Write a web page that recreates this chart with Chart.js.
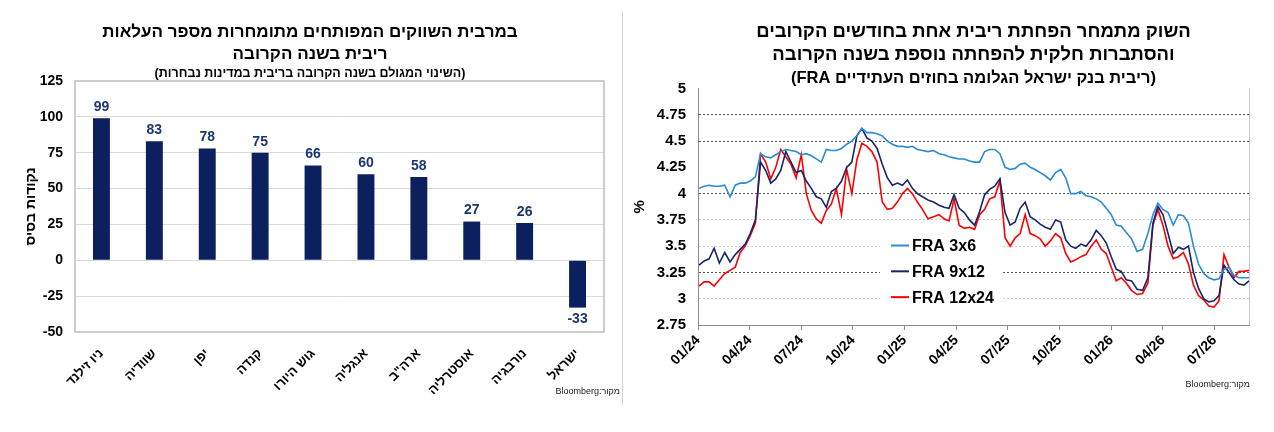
<!DOCTYPE html>
<html lang="he">
<head>
<meta charset="utf-8">
<script src="https://cdn.jsdelivr.net/npm/chart.js@4.4.1/dist/chart.umd.min.js"></script>
<style>
  body { margin: 0; background: #fff; width: 1274px; height: 432px; overflow: hidden; position: relative; font-family: Arial, "Liberation Sans", sans-serif; }
  #left { position: absolute; left: 0; top: 0; }
  #right { position: absolute; left: 630px; top: 0; }
  .sep { position: absolute; left: 622px; top: 12px; width: 1px; height: 393px; background: #d4d4d4; }
  .src { position: absolute; font-size: 9px; color: #222; direction: rtl; }
</style>
</head>
<body>
<canvas id="left" dir="ltr" width="620" height="432"></canvas>
<div class="sep"></div>
<canvas id="right" dir="rtl" width="644" height="432"></canvas>
<div class="src" style="right:654px; top:386px;">מקור:Bloomberg</div>
<div class="src" style="right:24px; top:379px;">מקור:Bloomberg</div>
<script>
// ---- left chart: expected change over the next year (bp)
const countries = ['ניו זילנד', 'שוודיה', 'יפן', 'קנדה', 'גוש היורו', 'אנגליה', 'ארה"ב', 'אוסטרליה', 'נורבגיה', 'ישראל'];
const expectedChange = [99, 83, 78, 75, 66, 60, 58, 27, 26, -33];
const leftTitle = ['במרבית השווקים המפותחים מתומחרות מספר העלאות', 'ריבית בשנה הקרובה'];
const leftSubtitle = '(השינוי המגולם בשנה הקרובה בריבית במדינות נבחרות)';

// ---- right chart: BoI rate implied in FRA contracts
// one reading every 9 days, starting 03/01/2024
const firstDay = [2024, 0, 3];
const stepDays = 9;
const fra3x6 = [4.05, 4.07, 4.08, 4.07, 4.07, 4.08, 3.97, 4.08, 4.1, 4.1, 4.12, 4.16, 4.38, 4.35, 4.34, 4.37, 4.4, 4.42, 4.41, 4.4,
  4.37, 4.38, 4.36, 4.33, 4.3, 4.42, 4.41, 4.41, 4.43, 4.47, 4.5, 4.55, 4.62, 4.58, 4.58, 4.57, 4.55, 4.5, 4.47, 4.45,
  4.45, 4.44, 4.45, 4.42, 4.41, 4.4, 4.41, 4.38, 4.37, 4.35, 4.34, 4.33, 4.33, 4.31, 4.3, 4.3, 4.4, 4.42, 4.42, 4.38,
  4.25, 4.23, 4.24, 4.28, 4.29, 4.25, 4.23, 4.2, 4.17, 4.13, 4.2, 4.23, 4.15, 4.0, 4.0, 4.02, 3.98, 3.97, 3.95, 3.92,
  3.86, 3.8, 3.7, 3.69, 3.63, 3.57, 3.45, 3.47, 3.62, 3.8, 3.91, 3.85, 3.82, 3.7, 3.8, 3.79, 3.72, 3.5, 3.33, 3.24,
  3.2, 3.18, 3.19, 3.28, 3.3, 3.22, 3.2, 3.2, 3.2];
const fra9x12 = [3.32, 3.36, 3.38, 3.48, 3.34, 3.44, 3.35, 3.42, 3.47, 3.52, 3.62, 3.75, 4.3, 4.22, 4.1, 4.14, 4.22, 4.4, 4.3, 4.2,
  4.22, 4.12, 4.05, 3.97, 3.95, 3.87, 4.02, 4.05, 4.12, 4.25, 4.3, 4.55, 4.62, 4.53, 4.5, 4.43, 4.28, 4.15, 4.08, 4.1,
  4.08, 4.13, 4.05, 4.0, 3.97, 3.94, 3.92, 3.89, 3.87, 3.86, 3.99, 3.86, 3.82, 3.75, 3.7, 3.83, 3.99, 4.04, 4.07, 4.14,
  3.82, 3.7, 3.73, 3.86, 3.92, 3.78, 3.75, 3.71, 3.68, 3.66, 3.75, 3.73, 3.56, 3.5, 3.48, 3.52, 3.5, 3.56, 3.65, 3.6,
  3.53, 3.4, 3.28, 3.26, 3.18, 3.17, 3.09, 3.08, 3.2, 3.72, 3.88, 3.8, 3.62, 3.43, 3.49, 3.47, 3.5, 3.25, 3.1, 3.0,
  2.97, 2.98, 3.03, 3.32, 3.25, 3.18, 3.14, 3.13, 3.17];
const fra12x24 = [3.12, 3.16, 3.16, 3.12, 3.18, 3.24, 3.27, 3.3, 3.44, 3.5, 3.6, 3.72, 4.38, 4.3, 4.14, 4.25, 4.42, 4.35, 4.28, 4.15,
  4.37, 4.0, 3.84, 3.76, 3.72, 3.84, 3.9, 4.05, 3.8, 4.23, 4.0, 4.32, 4.48, 4.45, 4.4, 4.3, 3.92, 3.85, 3.86, 3.92,
  4.0, 4.05, 4.0, 3.92, 3.85, 3.76, 3.78, 3.8, 3.76, 3.74, 3.95, 3.7, 3.67, 3.68, 3.66, 3.8, 3.85, 3.95, 3.97, 4.12,
  3.58, 3.5, 3.58, 3.62, 3.8, 3.62, 3.6, 3.57, 3.5, 3.55, 3.62, 3.58, 3.43, 3.35, 3.37, 3.4, 3.42, 3.5, 3.56, 3.47,
  3.43, 3.3, 3.17, 3.2, 3.15, 3.08, 3.04, 3.05, 3.15, 3.7, 3.85, 3.7, 3.5, 3.38, 3.4, 3.44, 3.33, 3.13, 3.03, 2.99,
  2.93, 2.92, 2.98, 3.42, 3.3, 3.2, 3.26, 3.26, 3.27];
const seriesNames = ['FRA 3x6', 'FRA 9x12', 'FRA 12x24'];
const seriesColors = ['#2a8ad4', '#16256a', '#ff0000'];
const rightTitle = ['השוק מתמחר הפחתת ריבית אחת בחודשים הקרובים', 'והסתברות חלקית להפחתה נוספת בשנה הקרובה'];
const rightSubtitle = '(ריבית בנק ישראל הגלומה בחוזים העתידיים FRA)';

const FONT = 'Arial, "Liberation Sans", "DejaVu Sans", sans-serif';

// months since Jan 2024 (fractional) for a date
function monthPos(d) {
  const dim = new Date(d.getFullYear(), d.getMonth() + 1, 0).getDate();
  return (d.getFullYear() - 2024) * 12 + d.getMonth() + (d.getDate() - 1) / dim;
}
function toPoints(values) {
  return values.map((v, i) => ({
    x: monthPos(new Date(firstDay[0], firstDay[1], firstDay[2] + i * stepDays)),
    y: v
  }));
}

const boxFrame = {
  id: 'boxFrame',
  beforeDatasetsDraw(chart) {
    const a = chart.chartArea, ctx = chart.ctx;
    ctx.save();
    ctx.strokeStyle = '#bdbdbd';
    ctx.lineWidth = 1.5;
    ctx.strokeRect(a.left, a.top, a.right - a.left, a.bottom - a.top);
    ctx.restore();
  }
};

const barValues = {
  id: 'barValues',
  afterDatasetsDraw(chart) {
    const ctx = chart.ctx;
    const meta = chart.getDatasetMeta(0);
    ctx.save();
    ctx.font = 'bold 14px ' + FONT;
    ctx.fillStyle = '#1b3672';
    ctx.textAlign = 'center';
    meta.data.forEach((bar, i) => {
      const v = expectedChange[i];
      if (v >= 0) {
        ctx.textBaseline = 'bottom';
        ctx.fillText(v, bar.x, bar.y - 4);
      } else {
        ctx.textBaseline = 'top';
        ctx.fillText(v, bar.x, bar.y + 5);
      }
    });
    ctx.restore();
  }
};

new Chart(document.getElementById('left'), {
  type: 'bar',
  data: {
    labels: countries,
    datasets: [{
      data: expectedChange,
      backgroundColor: '#0c1f5e',
      barPercentage: 0.32,
      categoryPercentage: 1
    }]
  },
  options: {
    responsive: false,
    animation: false,
    layout: { padding: { left: 16, right: 16, top: 0, bottom: 0 } },
    plugins: {
      legend: { display: false },
      tooltip: { enabled: false },
      title: {
        display: true, text: leftTitle, color: '#000',
        font: { family: FONT, size: 17, weight: 'bold', lineHeight: 1.3 },
        padding: { top: 21.5, bottom: 0 }
      },
      subtitle: {
        display: true, text: leftSubtitle, color: '#000',
        font: { family: FONT, size: 12.5, weight: 'bold', lineHeight: 1.2 },
        padding: { top: 0, bottom: 0.3 }
      }
    },
    scales: {
      x: {
        grid: { display: false },
        border: { display: false },
        ticks: {
          color: '#000', minRotation: 45, maxRotation: 45, padding: 6,
          font: { family: FONT, size: 13, weight: 'bold' }
        },
        afterFit(s) { s.height = 100; }
      },
      y: {
        min: -50, max: 125,
        ticks: { stepSize: 25, color: '#000', padding: 12, font: { family: FONT, size: 14, weight: 'bold' } },
        grid: {
          drawTicks: false,
          color: c => (c.tick && (c.tick.value === 125 || c.tick.value === -50)) ? 'rgba(0,0,0,0)' : '#dcdcdc'
        },
        border: { display: false },
        title: {
          display: true, text: 'נקודות בסיס', color: '#000',
          font: { family: FONT, size: 14, weight: 'bold' },
          padding: { top: 7, bottom: 0 }
        },
        afterFit(s) { s.width = 59; }
      }
    }
  },
  plugins: [boxFrame, barValues]
});

// ---- right chart
function quarterLabel(m) {
  const mm = (m % 12) + 1;
  const yy = 24 + Math.floor(m / 12);
  return (mm < 10 ? '0' : '') + mm + '/' + yy;
}

const darkLines = [4.75, 4.5, 4, 3.25];
const lightLines = [3.75, 3.5, 3];

const rightEdge = {
  id: 'rightEdge',
  beforeDatasetsDraw(chart) {
    const a = chart.chartArea, ctx = chart.ctx;
    ctx.save();
    ctx.strokeStyle = '#c8c8c8';
    ctx.lineWidth = 1;
    ctx.beginPath();
    ctx.moveTo(a.right + 0.5, a.top);
    ctx.lineTo(a.right + 0.5, a.bottom);
    ctx.stroke();
    ctx.restore();
  }
};

const fraLegend = {
  id: 'fraLegend',
  afterDatasetsDraw(chart) {
    const a = chart.chartArea, ctx = chart.ctx;
    const bx = a.left + 182, by = a.top + 146;
    ctx.save();
    ctx.direction = 'ltr';
    ctx.fillStyle = '#fff';
    ctx.fillRect(bx, by, 121, 72);
    ctx.font = 'bold 16px ' + FONT;
    ctx.textBaseline = 'middle';
    ctx.textAlign = 'left';
    chart.data.datasets.forEach((ds, i) => {
      const y = by + 11 + i * 25.8;
      ctx.strokeStyle = ds.borderColor;
      ctx.lineWidth = 2;
      ctx.beginPath();
      ctx.moveTo(bx + 11, y);
      ctx.lineTo(bx + 29, y);
      ctx.stroke();
      ctx.fillStyle = '#000';
      ctx.fillText(ds.label, bx + 32, y + 1);
    });
    ctx.restore();
  }
};

const series = [fra3x6, fra9x12, fra12x24];

new Chart(document.getElementById('right'), {
  type: 'line',
  data: {
    datasets: series.map((vals, i) => ({
      label: seriesNames[i],
      data: toPoints(vals),
      borderColor: seriesColors[i],
      borderWidth: 1.6,
      pointRadius: 0,
      fill: false,
      tension: 0
    }))
  },
  options: {
    responsive: false,
    animation: false,
    layout: { padding: { left: 0, right: 25, top: 0, bottom: 0 } },
    plugins: {
      legend: { display: false },
      tooltip: { enabled: false },
      title: {
        display: true, fullSize: false, text: rightTitle, color: '#000',
        font: { family: FONT, size: 18.5, weight: 'bold', lineHeight: 1.24 },
        padding: { top: 20.5, bottom: 0 }
      },
      subtitle: {
        display: true, fullSize: false, text: rightSubtitle, color: '#000',
        font: { family: FONT, size: 16.5, weight: 'bold', lineHeight: 1.1 },
        padding: { top: 2.5, bottom: 1.5 }
      }
    },
    scales: {
      x: {
        type: 'linear', min: 0, max: 32,
        ticks: {
          stepSize: 3, includeBounds: false, autoSkip: false,
          minRotation: 45, maxRotation: 45, padding: 2, color: '#000',
          font: { family: FONT, size: 14, weight: 'bold' },
          callback: v => quarterLabel(v)
        },
        grid: { drawOnChartArea: false, drawTicks: true, tickLength: 5, color: '#8a8a8a' },
        border: { color: '#8a8a8a' },
        afterFit(s) { s.height = 107; }
      },
      y: {
        min: 2.75, max: 5,
        ticks: {
          stepSize: 0.25, padding: 12, color: '#000',
          font: { family: FONT, size: 15, weight: 'bold' },
          callback: v => String(+v.toFixed(2))
        },
        grid: {
          drawTicks: false,
          color: c => {
            const v = c.tick ? +c.tick.value.toFixed(2) : null;
            if (darkLines.includes(v)) return '#555';
            if (lightLines.includes(v)) return '#cfcfcf';
            return 'rgba(0,0,0,0)';
          }
        },
        border: { color: '#8a8a8a', dash: [2, 2] },
        title: {
          display: true, text: '%', color: '#000',
          font: { family: FONT, size: 15, weight: 'bold' },
          padding: { top: 1, bottom: 0 }
        },
        afterFit(s) { s.width = 68; }
      }
    }
  },
  plugins: [rightEdge, fraLegend]
});
</script>
</body>
</html>
